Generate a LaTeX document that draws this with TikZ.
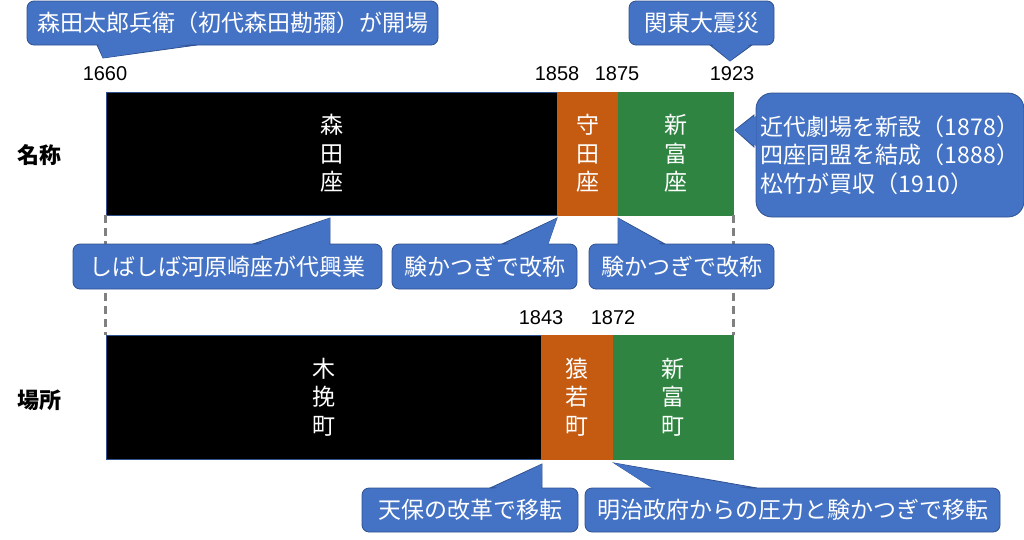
\documentclass[tikz,border=0pt]{standalone}
\usepackage{fontspec}
\setmainfont{Noto Sans CJK JP}
\newfontfamily\numfont{Liberation Sans}
\definecolor{cb}{RGB}{68,114,196}
\definecolor{cbd}{RGB}{47,82,143}
\definecolor{orng}{RGB}{197,90,17}
\definecolor{grn}{RGB}{46,132,64}
\definecolor{dgray}{RGB}{128,128,128}
\tikzset{
  callout/.style={fill=cb, draw=cbd, line width=0.8pt, rounded corners=7pt, text=white,
    font=\fontsize{23}{28.5}\selectfont, inner sep=0pt, align=center},
  tailshape/.style={fill=cb, draw=cbd, line width=0.8pt},
  tailfill/.style={fill=cb},
  bar/.style={draw=cbd, line width=0.6pt, text=white, inner sep=0pt, align=center,
    font=\fontsize{23}{28.5}\selectfont},
  year/.style={font=\numfont\fontsize{20}{24}\selectfont, inner sep=0pt},
  rowlabel/.style={font=\bfseries\fontsize{22}{26}\selectfont, inner sep=0pt},
  guide/.style={dgray, line width=2.5pt, dash pattern=on 8pt off 5pt}
}
\begin{document}
\begin{tikzpicture}[x=1pt,y=-1pt]
\useasboundingbox (0,0) rectangle (1024,539);
% bars
\node[bar, fill=black, minimum width=451, minimum height=123] (morita) at (331.5,153.5) {森\\田\\座};
\node[bar, fill=orng, draw=orng, minimum width=61, minimum height=123] (morita2) at (587.5,153.5) {守\\田\\座};
\node[bar, fill=grn, draw=grn, minimum width=115, minimum height=123] (shintomi) at (675.5,153.5) {新\\富\\座};
\node[bar, fill=black, minimum width=435, minimum height=124] (kobiki) at (323.5,397) {木\\挽\\町};
\node[bar, fill=orng, draw=orng, minimum width=72, minimum height=124] (saruwaka) at (577,397) {猿\\若\\町};
\node[bar, fill=grn, draw=grn, minimum width=120, minimum height=124] (shintomicho) at (673,397) {新\\富\\町};
% guides
\draw[guide] (morita.south west) -- (kobiki.north west);
\draw[guide] (shintomi.south east) -- (shintomicho.north east);
% row labels
\node[rowlabel] (lname) at (39,155) {名称};
\node[rowlabel] (lplace) at (39,400) {場所};
% years
\node[year] (y1660) at (105,74) {1660};
\node[year] (y1858) at (557,74) {1858};
\node[year] (y1875) at (617,74) {1875};
\node[year] (y1923) at (732,74) {1923};
\node[year] (y1843) at (541,318) {1843};
\node[year] (y1872) at (613,318) {1872};
% tail tips
\coordinate (t1) at (103,58);
\coordinate (t2) at (730,61);
\coordinate (t3) at (735,130);
\coordinate (t4) at (330,218);
\coordinate (t5) at (557,218);
\coordinate (t6) at (618,218);
\coordinate (t7) at (542,464);
\coordinate (t8) at (614,463);
% tails (outlined)
\filldraw[tailshape] (97,45) -- (t1) -- (197,45) -- cycle;
\filldraw[tailshape] (710,45) -- (t2) -- (752,45) -- cycle;
\filldraw[tailshape] (754,115) -- (t3) -- (754,147) -- cycle;
\filldraw[tailshape] (253,244) -- (t4) -- (330,244) -- cycle;
\filldraw[tailshape] (502,244) -- (t5) -- (548,244) -- cycle;
\filldraw[tailshape] (618,244) -- (t6) -- (665,244) -- cycle;
\filldraw[tailshape] (490,488) -- (t7) -- (542,488) -- cycle;
\filldraw[tailshape] (653,488) -- (t8) -- (757,488) -- cycle;
% callout boxes
\node[callout, minimum width=411, minimum height=44] (c1) at (232.5,23) {森田太郎兵衛（初代森田勘彌）が開場};
\node[callout, minimum width=145, minimum height=44] (c2) at (701.5,23) {関東大震災};
\node[callout, minimum width=268, minimum height=124, align=left, rounded corners=16pt] (c3) at (890,155) {近代劇場を新設（1878）\\四座同盟を結成（1888）\\松竹が買収（1910）};
\node[callout, minimum width=309, minimum height=45] (c4) at (227.5,266.5) {しばしば河原崎座が代興業};
\node[callout, minimum width=185, minimum height=45] (c5) at (484.5,266.5) {験かつぎで改称};
\node[callout, minimum width=185, minimum height=45] (c6) at (681.5,266.5) {験かつぎで改称};
\node[callout, minimum width=216, minimum height=44] (c7) at (470,510) {天保の改革で移転};
\node[callout, minimum width=415, minimum height=44] (c8) at (792.5,510) {明治政府からの圧力と験かつぎで移転};
% tails refill (merge with boxes)
\fill[tailfill] (97.8,43) -- (t1) -- (196,43) -- cycle;
\fill[tailfill] (710.8,43) -- (t2) -- (751,43) -- cycle;
\fill[tailfill] (756,116) -- (t3) -- (756,146) -- cycle;
\fill[tailfill] (255,246) -- (t4) -- (329.4,246) -- cycle;
\fill[tailfill] (504,246) -- (t5) -- (547.6,246) -- cycle;
\fill[tailfill] (618.6,246) -- (t6) -- (663,246) -- cycle;
\fill[tailfill] (492,490) -- (t7) -- (541.4,490) -- cycle;
\fill[tailfill] (655,490) -- (t8) -- (754,490) -- cycle;
\end{tikzpicture}
\end{document}
